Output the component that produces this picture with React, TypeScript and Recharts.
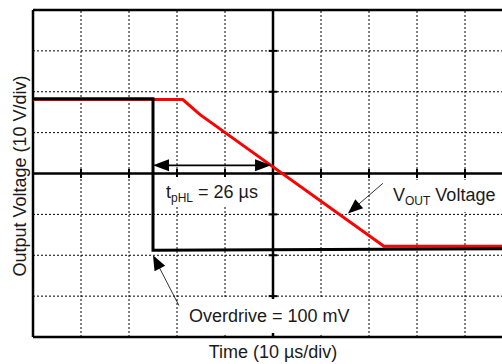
import React from 'react'
import { LineChart, Line, XAxis, YAxis, ReferenceLine } from 'recharts'

// scope divisions: 10 µs/div horizontally, 10 V/div vertically
const timeTicks = [0, 10, 20, 30, 40, 50, 60, 70, 80, 90, 100]
const voltTicks = [-40, -30, -20, -10, 0, 10, 20, 30, 40]

// output voltage trace (red)
const voutTrace = [
  { t: 0, v: 18.1 },
  { t: 31.2, v: 18.1 },
  { t: 34.8, v: 14.4 },
  { t: 73.1, v: -17.8 },
  { t: 100, v: -17.8 },
]

// input step with 100 mV overdrive (black)
const inputTrace = [
  { t: 0, v: 18.3 },
  { t: 25, v: 18.3 },
  { t: 25, v: -18.8 },
  { t: 100, v: -18.4 },
]

// annotation arrows, [from, to] in µs / V
const tphlArrow = [{ x: 25, y: 2 }, { x: 49.6, y: 2 }]
const voutArrow = [{ x: 72.9, y: -2.4 }, { x: 65.6, y: -9.8 }]
const overdriveArrow = [{ x: 30.4, y: -32.3 }, { x: 25, y: -20 }]

const font = '"Liberation Sans", Arial, Helvetica, sans-serif'

function arrowShape(both: boolean, width: number, len: number, half: number) {
  return (p: any) => {
    const { x1, y1, x2, y2 } = p
    const dx = x2 - x1
    const dy = y2 - y1
    const L = Math.hypot(dx, dy) || 1
    const ux = dx / L
    const uy = dy / L
    const head = (tx: number, ty: number, ax: number, ay: number) => {
      const bx = tx - ax * len
      const by = ty - ay * len
      const nx = -ay * half
      const ny = ax * half
      return `${tx},${ty} ${bx + nx},${by + ny} ${bx - nx},${by - ny}`
    }
    const sx = both ? x1 + ux * len * 0.8 : x1
    const sy = both ? y1 + uy * len * 0.8 : y1
    return (
      <g>
        <line x1={sx} y1={sy} x2={x2 - ux * len * 0.8} y2={y2 - uy * len * 0.8} stroke="#000" strokeWidth={width} />
        <polygon points={head(x2, y2, ux, uy)} fill="#000" />
        {both && <polygon points={head(x1, y1, -ux, -uy)} fill="#000" />}
      </g>
    )
  }
}

export default function App() {
  return (
    <div
      style={{
        position: 'fixed',
        left: 0,
        top: 0,
        width: 502,
        height: 364,
        overflow: 'hidden',
        background: '#fff',
      }}
    >
      <LineChart width={530} height={364} margin={{ top: 10, right: 17, bottom: 27, left: 33 }}>
        <XAxis type="number" dataKey="t" domain={[0, 100]} ticks={timeTicks} hide allowDataOverflow />
        <YAxis type="number" dataKey="v" domain={[-40, 40]} ticks={voltTicks} hide allowDataOverflow />

        {/* dotted graticule */}
        {timeTicks.slice(1, -1).filter((t) => t !== 50).map((t) => (
          <ReferenceLine key={'gx' + t} x={t} stroke="#000" strokeWidth={1} strokeDasharray="2 2" />
        ))}
        {voltTicks.slice(1, -1).filter((v) => v !== 0).map((v) => (
          <ReferenceLine key={'gy' + v} y={v} stroke="#000" strokeWidth={1} strokeDasharray="2 2" />
        ))}

        {/* center axes with division ticks */}
        <ReferenceLine x={50} stroke="#000" strokeWidth={2.5} />
        <ReferenceLine y={0} stroke="#000" strokeWidth={2.5} />
        {timeTicks.slice(1, -1).map((t) => (
          <ReferenceLine key={'tx' + t} segment={[{ x: t, y: -1.1 }, { x: t, y: 1.1 }]} stroke="#000" strokeWidth={2} />
        ))}
        {voltTicks.slice(1, -1).map((v) => (
          <ReferenceLine key={'ty' + v} segment={[{ x: 49.1, y: v }, { x: 50.9, y: v }]} stroke="#000" strokeWidth={2} />
        ))}

        {/* frame */}
        <ReferenceLine x={0} stroke="#000" strokeWidth={2.5} />
        <ReferenceLine y={40} stroke="#000" strokeWidth={2.5} />
        <ReferenceLine y={-40} stroke="#000" strokeWidth={2.5} />

        <Line data={voutTrace} dataKey="v" type="linear" stroke="#ff0000" strokeWidth={3} dot={false} isAnimationActive={false} />
        <Line data={inputTrace} dataKey="v" type="linear" stroke="#000" strokeWidth={3} dot={false} isAnimationActive={false} />

        <ReferenceLine segment={tphlArrow} shape={arrowShape(true, 1.6, 16, 6)} />
        <ReferenceLine segment={voutArrow} shape={arrowShape(false, 0.8, 15, 6)} />
        <ReferenceLine segment={overdriveArrow} shape={arrowShape(false, 0.8, 15, 6)} />
      </LineChart>

      <svg
        width={502}
        height={364}
        style={{ position: 'absolute', left: 0, top: 0, pointerEvents: 'none' }}
        fontFamily={font}
        fill="#1a1a1a"
      >
        {/* white label boxes hide the graticule behind the annotations */}
        <rect x={160} y={177} width={103} height={28} fill="#fff" />
        <rect x={387} y={180} width={115} height={32} fill="#fff" />
        <rect x={184} y={299} width={172} height={34} fill="#fff" />

        <text transform="translate(26,176) rotate(-90)" textAnchor="middle" fontSize={18}>
          Output Voltage (10 V/div)
        </text>
        <text x={273} y={358} textAnchor="middle" fontSize={18}>
          Time (10 µs/div)
        </text>
        <text x={166} y={198} fontSize={18}>
          <tspan>t</tspan>
          <tspan fontSize={12} dy={4}>pHL</tspan>
          <tspan dy={-4}> = 26 µs</tspan>
        </text>
        <text x={393} y={201} fontSize={18}>
          <tspan>V</tspan>
          <tspan fontSize={12} dy={4}>OUT</tspan>
          <tspan dy={-4}> Voltage</tspan>
        </text>
        <text x={189} y={322} fontSize={18}>
          Overdrive = 100 mV
        </text>
      </svg>
    </div>
  )
}
